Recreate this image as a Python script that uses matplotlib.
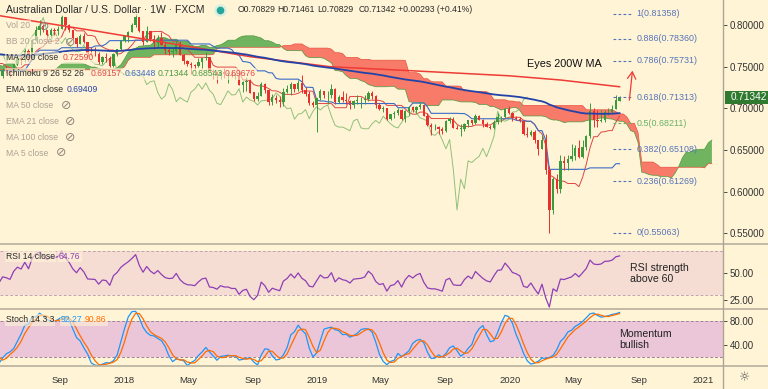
import numpy as np
import pandas as pd
import matplotlib
matplotlib.use("Agg")
import matplotlib.pyplot as plt
from matplotlib.lines import Line2D
from matplotlib import font_manager

plt.rcParams['font.family'] = ['Liberation Sans', 'DejaVu Sans']

# the chart's own font is narrow; use Liberation Sans Narrow when it is there
installed = {f.name for f in font_manager.fontManager.ttflist}
if 'Liberation Sans Narrow' in installed:
    small_family = ['Liberation Sans Narrow', 'DejaVu Sans']
    leg_size, fib_size = 6.9, 7.2
else:
    small_family = ['Liberation Sans', 'DejaVu Sans']
    leg_size, fib_size = 6.2, 6.4

# weekly AUD/USD bars (FXCM), one per Monday starting 2016-05-16, in 1e-4 units
first_week = "2016-05-16"
first_open = 7300
last_open = 7083

closes = [
    # 2016
    7210, 7170, 7375, 7375, 7420, 7360, 7465, 7560, 7615, 7470, 7600, 7605, 7660, 7660, 7555, 7590, 7505,
    7485, 7645, 7650, 7580, 7625, 7615, 7600, 7675, 7520, 7370, 7425, 7465, 7445, 7310, 7185, 7215,
    # 2017
    7305, 7475, 7545, 7540, 7670, 7665, 7665, 7675, 7575, 7555, 7715, 7635, 7640, 7530, 7570, 7555, 7470,
    7405, 7385, 7465, 7450, 7425, 7535, 7600, 7575, 7690, 7600, 7815, 7940, 7985, 7935, 7880, 7935, 7930,
    7955, 8090, 8005, 7940, 7840, 7775, 7870, 7795, 7660, 7655, 7650, 7555, 7615, 7605, 7510, 7655, 7710, 7805,
    # 2018
    7865, 7920, 7995, 8090, 7925, 7800, 7925, 7835, 7780, 7845, 7765, 7700, 7680, 7685, 7765, 7645, 7570,
    7530, 7525, 7510, 7560, 7600, 7610, 7445, 7435, 7400, 7440, 7415, 7415, 7390, 7390, 7285, 7320, 7330,
    7190, 7110, 7150, 7295, 7225, 7080, 7130, 7100, 7075, 7195, 7230, 7295, 7230, 7305, 7215, 7170, 7060,
    7045, 7125,
    # 2019
    7210, 7160, 7165, 7235, 7075, 7135, 7100, 7085, 7040, 7090, 7095, 7100, 7115, 7185, 7145, 7045, 6995,
    7005, 6870, 6930, 6940, 6985, 6875, 6965, 7020, 6980, 7020, 7040, 6905, 6795, 6775, 6775, 6755, 6730,
    6850, 6870, 6765, 6755, 6755, 6815, 6855, 6820, 6905, 6860, 6815, 6780, 6765, 6830, 6895, 6900, 6990, 6945,
    # 2020
    6885, 6870, 6845, 6695, 6675, 6720, 6620, 6515, 6625, 6265, 5780, 6150, 6035, 6370, 6350, 6390, 6425,
    6520, 6420, 6535, 6665, 6965, 6860, 6845, 6865, 6955, 6960, 6995, 7105, 7134,
]
highs = [
    7300, 7260, 7385, 7470, 7460, 7645, 7505, 7595, 7675, 7615, 7605, 7675, 7710, 7735, 7690, 7605, 7730,
    7545, 7665, 7735, 7700, 7640, 7700, 7680, 7690, 7780, 7555, 7450, 7525, 7525, 7530, 7325, 7255,
    7330, 7500, 7615, 7605, 7695, 7690, 7730, 7730, 7690, 7590, 7720, 7745, 7680, 7645, 7610, 7595, 7580,
    7505, 7445, 7480, 7510, 7475, 7550, 7635, 7625, 7715, 7710, 7835, 7990, 8065, 8010, 7945, 7965, 7960,
    7990, 8125, 8100, 8010, 7945, 7860, 7895, 7900, 7800, 7730, 7730, 7675, 7625, 7665, 7630, 7665, 7715, 7815,
    7885, 7925, 8020, 8135, 8100, 7930, 7990, 7925, 7875, 7875, 7915, 7790, 7720, 7725, 7815, 7810, 7650,
    7580, 7555, 7535, 7610, 7610, 7680, 7620, 7470, 7445, 7445, 7485, 7440, 7455, 7425, 7435, 7325, 7380,
    7365, 7195, 7195, 7315, 7300, 7235, 7175, 7155, 7145, 7240, 7285, 7315, 7295, 7340, 7395, 7255, 7205,
    7085, 7130,
    7235, 7210, 7205, 7295, 7250, 7165, 7205, 7185, 7105, 7100, 7165, 7140, 7165, 7205, 7205, 7155, 7070,
    7030, 7010, 6935, 6965, 7005, 6995, 6985, 7030, 7025, 7025, 7080, 7045, 6940, 6825, 6810, 6790, 6780,
    6855, 6895, 6895, 6800, 6810, 6820, 6865, 6865, 6930, 6925, 6875, 6835, 6805, 6865, 6940, 6910, 6995, 7030,
    6955, 6905, 6895, 6850, 6775, 6740, 6745, 6625, 6685, 6690, 6310, 6175, 6215, 6445, 6425, 6445, 6570,
    6565, 6615, 6615, 6680, 7065, 7000, 6975, 6975, 6985, 7005, 7035, 7165, 7146,
]
lows = [
    7145, 7145, 7150, 7355, 7340, 7325, 7285, 7405, 7525, 7445, 7440, 7535, 7600, 7605, 7545, 7490, 7500,
    7440, 7475, 7600, 7560, 7520, 7575, 7585, 7580, 7515, 7370, 7310, 7385, 7420, 7300, 7160, 7160,
    7165, 7300, 7455, 7520, 7505, 7600, 7645, 7630, 7560, 7490, 7545, 7605, 7590, 7520, 7490, 7515, 7455,
    7375, 7330, 7370, 7420, 7375, 7420, 7525, 7535, 7555, 7570, 7600, 7805, 7875, 7915, 7810, 7840, 7880,
    7875, 7955, 7945, 7915, 7835, 7735, 7770, 7780, 7625, 7625, 7625, 7535, 7530, 7560, 7500, 7500, 7625, 7695,
    7800, 7800, 7910, 7975, 7920, 7760, 7800, 7810, 7710, 7740, 7765, 7655, 7640, 7620, 7670, 7640, 7530,
    7505, 7410, 7470, 7500, 7475, 7580, 7435, 7355, 7310, 7355, 7365, 7310, 7375, 7355, 7285, 7200, 7205,
    7180, 7085, 7085, 7150, 7185, 7040, 7040, 7070, 7020, 7025, 7185, 7165, 7195, 7205, 7185, 7145, 7045,
    7015, 6720,
    7100, 7120, 7055, 7125, 7055, 7070, 7075, 7055, 6990, 7000, 7050, 7005, 7055, 7090, 7110, 7010, 6985,
    6960, 6865, 6865, 6880, 6925, 6865, 6830, 6920, 6960, 6945, 6995, 6905, 6785, 6675, 6745, 6690, 6690,
    6710, 6825, 6760, 6755, 6670, 6725, 6770, 6805, 6810, 6855, 6770, 6775, 6755, 6755, 6810, 6835, 6890, 6935,
    6850, 6855, 6830, 6685, 6660, 6665, 6585, 6435, 6510, 6215, 5506, 5730, 5980, 5985, 6255, 6255, 6365,
    6375, 6400, 6400, 6500, 6645, 6775, 6775, 6835, 6830, 6920, 6950, 6990, 7083,
]

# 200-week simple MA
ma200_dates = ["2017-05-01", "2017-11-15", "2018-05-24", "2018-08-27", "2019-01-25",
               "2019-08-02", "2020-01-01", "2020-04-06", "2020-07-27"]
ma200_vals = [0.8120, 0.7920, 0.7720, 0.7620, 0.7500, 0.7440, 0.7390, 0.7340, 0.7259]
ema110_seed = 0.784

fib_labels = ["1", "0.886", "0.786", "0.618", "0.5", "0.382", "0.236", "0"]
fib_levels = [0.81358, 0.78360, 0.75731, 0.71313, 0.68211, 0.65108, 0.61269, 0.55063]

# legend values as printed on the chart
ohlc_header = ["O0.70829", "H0.71461", "L0.70829", "C0.71342", "+0.00293 (+0.41%)"]
ma200_label = "0.72590"
ichimoku_vals = ["0.69157", "0.63448", "0.71344", "0.68543", "0.69676"]
ema110_label = "0.69409"
rsi_label = "64.76"
stoch_labels = ["92.27", "90.86"]
last_price = 0.71342

tick_dates = ["2017-09-01", "2018-01-01", "2018-05-01", "2018-09-01", "2019-01-01", "2019-05-01",
              "2019-09-01", "2020-01-01", "2020-05-01", "2020-09-01", "2021-01-01"]
tick_labels = ["Sep", "2018", "May", "Sep", "2019", "May", "Sep", "2020", "May", "Sep", "2021"]

# ---- series ----
dates = pd.date_range(first_week, periods=len(closes), freq="W-MON")
c = pd.Series(np.array(closes) / 1e4, index=dates)
h = pd.Series(np.array(highs) / 1e4, index=dates)
l = pd.Series(np.array(lows) / 1e4, index=dates)
o = c.shift(1)
o.iloc[0] = first_open / 1e4
o.iloc[-1] = last_open / 1e4

disp = 25
tenkan = (h.rolling(9, min_periods=1).max() + l.rolling(9, min_periods=1).min()) / 2
kijun = (h.rolling(26, min_periods=1).max() + l.rolling(26, min_periods=1).min()) / 2
span_a_raw = (tenkan + kijun) / 2
span_b_raw = (h.rolling(52, min_periods=1).max() + l.rolling(52, min_periods=1).min()) / 2
fut = pd.date_range(first_week, periods=len(closes) + disp, freq="W-MON")
span_a = np.r_[np.full(disp, np.nan), span_a_raw.values]
span_b = np.r_[np.full(disp, np.nan), span_b_raw.values]

ema_in = c.copy()
ema_in.iloc[0] = ema110_seed
ema110 = ema_in.ewm(span=110, adjust=False).mean()

delta = c.diff()
up = delta.clip(lower=0).ewm(alpha=1 / 14, adjust=False).mean()
dn = (-delta.clip(upper=0)).ewm(alpha=1 / 14, adjust=False).mean()
rsi = 100 - 100 / (1 + up / dn)

ll14 = l.rolling(14).min()
hh14 = h.rolling(14).max()
stoch_k = (100 * (c - ll14) / (hh14 - ll14)).rolling(3).mean()
stoch_d = stoch_k.rolling(3).mean()

# ---- figure ----
W, H = 768, 389
bg = "#FFF4D6"
fig = plt.figure(figsize=(W / 100, H / 100), dpi=100, facecolor=bg)

def fx(px):
    return px / W

def fy(py):
    return 1 - py / H

ax = fig.add_axes([0, fy(244), fx(723), 244 / H])
ax_rsi = fig.add_axes([0, fy(309), fx(723), 65 / H], sharex=ax)
ax_st = fig.add_axes([0, fy(366), fx(723), 57 / H], sharex=ax)

x0 = pd.Timestamp("2017-05-10")
x1 = pd.Timestamp("2021-02-08")
for a in (ax, ax_rsi, ax_st):
    a.set_facecolor(bg)
    for s in a.spines.values():
        s.set_visible(False)
    a.yaxis.tick_right()
    a.tick_params(axis="y", labelsize=7, colors="#333333", length=3, width=0.6, pad=2)
    a.tick_params(axis="x", length=0)
    a.set_xlim(x0, x1)

# candles
up_col, dn_col = "#3A9A3C", "#E8302C"
colors = np.where(c.values >= o.values, up_col, dn_col)
ax.vlines(dates, l.values, h.values, colors=colors, lw=0.7, zorder=4)
body = np.maximum(np.abs(c.values - o.values), 0.0005)
ax.bar(dates, body, bottom=np.minimum(o.values, c.values), width=4.4, color=colors, zorder=5, lw=0)

# ichimoku
ax.fill_between(fut, span_a, span_b, where=span_a >= span_b, interpolate=True, color="#62AD52", alpha=0.9, lw=0, zorder=2)
ax.fill_between(fut, span_a, span_b, where=span_a < span_b, interpolate=True, color="#F76E5C", alpha=0.9, lw=0, zorder=2)
ax.plot(fut, span_a, color="#4C9A40", lw=0.5, zorder=2)
ax.plot(fut, span_b, color="#E8503F", lw=0.5, zorder=2)
ax.plot(dates, tenkan, color="#E04646", lw=0.7, zorder=3)
ax.plot(dates, kijun, color="#3B6CC8", lw=0.8, zorder=3)
ax.plot(dates[:-disp], c.values[disp:], color="#7DB86A", lw=0.7, alpha=0.85, zorder=3)

# moving averages
ax.plot(pd.to_datetime(ma200_dates), ma200_vals, color="#EE3B35", lw=1.1, zorder=6)
ax.plot(dates, ema110, color="#2443A8", lw=1.3, zorder=6)

ax.set_ylim(0.5372, 0.830)
ax.set_yticks([0.55, 0.60, 0.65, 0.70, 0.75, 0.80])
ax.set_yticklabels([f"{v:.5f}" for v in [0.55, 0.60, 0.65, 0.70, 0.75, 0.80]])
ax.tick_params(axis="x", labelbottom=False)

# fibonacci retracement
last = dates[-1]
for lab, lvl in zip(fib_labels, fib_levels):
    col = "#69B26A" if lab == "0.5" else "#5674B9"
    ax.hlines(lvl, last - pd.Timedelta(days=13), last + pd.Timedelta(days=23),
              colors=col, lw=0.8, linestyles=(0, (2.5, 2)), zorder=7)
    ax.text(last + pd.Timedelta(days=32), lvl, f"{lab}({lvl:.5f})", color=col,
            fontsize=fib_size, family=small_family, va="center", ha="left", zorder=8)

ax.text(pd.Timestamp("2020-02-02"), 0.7533, "Eyes 200W MA", fontsize=7.8, color="#111111",
        va="center", ha="left", zorder=8)
ax.annotate("", xy=(pd.Timestamp("2020-08-21"), 0.7485), xytext=(pd.Timestamp("2020-08-14"), 0.7065),
            arrowprops=dict(arrowstyle="->,head_length=0.5,head_width=0.3", color="#EE3B35", lw=0.9), zorder=8)

# RSI
ax_rsi.axhspan(30, 70, color="#F6DDD3", lw=0, zorder=0)
ax_rsi.axhline(70, color="#BFA3B3", lw=0.7, ls=(0, (3, 2)))
ax_rsi.axhline(30, color="#BFA3B3", lw=0.7, ls=(0, (3, 2)))
ax_rsi.plot(dates, rsi, color="#8E3FB5", lw=0.9)
ax_rsi.set_ylim(17, 76)
ax_rsi.set_yticks([25, 50])
ax_rsi.set_yticklabels(["25.00", "50.00"])
ax_rsi.tick_params(axis="x", labelbottom=False)

# Stochastic
ax_st.axhspan(20, 80, color="#EAC6D8", lw=0, zorder=0)
ax_st.axhline(80, color="#9E8299", lw=0.7, ls=(0, (3, 2)))
ax_st.axhline(20, color="#9E8299", lw=0.7, ls=(0, (3, 2)))
ax_st.plot(dates, stoch_k, color="#2196F3", lw=0.9)
ax_st.plot(dates, stoch_d, color="#FF6D00", lw=0.9)
ax_st.set_ylim(4.5, 99.5)
ax_st.set_yticks([40, 80])
ax_st.set_yticklabels(["40.00", "80.00"])
ax_st.set_xticks(pd.to_datetime(tick_dates))
ax_st.set_xticklabels(tick_labels)
ax_st.tick_params(axis="x", labelsize=6.8, colors="#333333", pad=7)

# separators
sep_col = "#B9B09E"
for py in (244, 309, 366):
    fig.add_artist(Line2D([0, 1], [fy(py), fy(py)], transform=fig.transFigure, color=sep_col, lw=1.2))
fig.add_artist(Line2D([fx(723), fx(723)], [0, 1], transform=fig.transFigure, color="#ADA491", lw=1.0))

# price tag
fig.add_artist(plt.Rectangle((fx(725), fy(104)), fx(43), 13 / H, transform=fig.transFigure,
                             color="#2F7A2F", lw=0))
fig.text(fx(731), fy(97.5), f"{last_price:.5f}", color="white", fontsize=7.2, va="center", ha="left")

# legends
dark, grey = "#2B2B2B", "#ABA396"
box = dict(boxstyle="square,pad=0.12", fc=bg, ec="none", alpha=0.6)

def label(px, py, s, col, size=None, family=None):
    fig.text(fx(px), fy(py), s, color=col, fontsize=size or leg_size, family=family or small_family,
             va="center", ha="left", bbox=box)

label(6, 10, "Australian Dollar / U.S. Dollar · 1W · FXCM", dark, size=7.5,
      family=['Liberation Sans', 'DejaVu Sans'])
fig.add_artist(Line2D([fx(220)], [fy(10)], transform=fig.transFigure, marker="o", ms=8,
                      color="#D9EFE0", lw=0))
fig.add_artist(Line2D([fx(220)], [fy(10)], transform=fig.transFigure, marker="o", ms=4.5,
                      color="#26A69A", lw=0))
for px, s in zip([238, 277.7, 317.7, 358.3, 398], ohlc_header):
    label(px, 10, s, dark)

label(6, 26, "Vol 20", grey)
label(6, 42, "BB 20 close 2", grey)
label(6, 58, "MA 200 close", dark)
label(62.7, 58, ma200_label, "#E8403A")
label(6, 74, "Ichimoku 9 26 52 26", dark)
for px, s, col in zip([90.7, 125, 158, 191.5, 225], ichimoku_vals,
                      ["#E04646", "#3B6CC8", "#4C9A40", "#4C9A40", "#E04646"]):
    label(px, 74, s, col)
label(6, 90, "EMA 110 close", dark)
label(67, 90, ema110_label, "#2443A8")
label(6, 105.5, "MA 50 close", grey)
label(6, 121, "EMA 21 close", grey)
label(6, 137, "MA 100 close", grey)
label(6, 153, "MA 5 close", grey)
for px, py in [(44, 26), (70, 42), (65.7, 105.5), (70, 121), (70, 137), (61, 153)]:
    fig.text(fx(px), fy(py), "⊘", color="#8E877B", fontsize=9, va="center", ha="center",
             family="DejaVu Sans")

label(6, 256.7, "RSI 14 close", dark)
label(59, 256.7, rsi_label, "#8E3FB5")
label(6, 320, "Stoch 14 3 3", dark)
label(61, 320, stoch_labels[0], "#2196F3")
label(85, 320, stoch_labels[1], "#FF6D00")

fig.text(fx(630), fy(268), "RSI strength", color="#222222", fontsize=7.6, va="center")
fig.text(fx(630), fy(279.5), "above 60", color="#222222", fontsize=7.6, va="center")
fig.text(fx(619), fy(334), "Momentum", color="#222222", fontsize=7.6, va="center")
fig.text(fx(619), fy(345), "bullish", color="#222222", fontsize=7.6, va="center")
fig.text(fx(745), fy(378), "☼", color="#555555", fontsize=9, va="center", ha="center", family="DejaVu Sans")

fig.savefig("out.png", dpi=100, facecolor=bg)
